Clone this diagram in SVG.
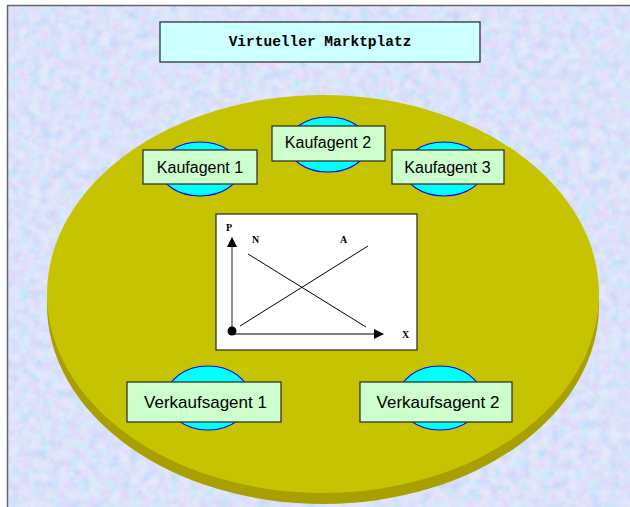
<svg xmlns="http://www.w3.org/2000/svg" width="630" height="507" viewBox="0 0 630 507">
  <defs>
    <filter id="tex" x="0" y="0" width="100%" height="100%">
      <feTurbulence type="fractalNoise" baseFrequency="0.1" numOctaves="3" seed="4" result="n"/>
      <feColorMatrix in="n" type="matrix" values="0.9 0 0 0 0.42  0 0.5 0 0 0.64  0 0 0.3 0 0.85  0 0 0 0 0.6" result="c"/>
      <feComposite in="c" in2="SourceGraphic" operator="in"/>
    </filter>
    <style>
      .agent { fill: #ccffcc; stroke: #333333; stroke-width: 1.3; }
      .blob { fill: #00ffff; stroke: #0000ff; stroke-width: 1.2; }
      .lbl { font-family: "Liberation Sans", Arial, sans-serif; font-size: 16px; fill: #000; text-anchor: middle; }
      .lbl2 { font-family: "Liberation Sans", Arial, sans-serif; font-size: 17px; fill: #000; text-anchor: middle; }
      .ax { font-family: "Liberation Serif", "Times New Roman", serif; font-size: 10px; font-weight: bold; fill: #000; }
    </style>
    <marker id="arr" markerWidth="10" markerHeight="10" refX="9" refY="5" orient="auto" markerUnits="userSpaceOnUse">
      <path d="M0,0 L10,5 L0,10 Z" fill="#000"/>
    </marker>
  </defs>

  <g id="background">
    <rect x="0" y="0" width="630" height="507" fill="#ffffff"/>
    <rect x="7" y="5" width="623" height="502" fill="#bccaf6"/>
    <rect x="7" y="5" width="623" height="502" fill="#ffffff" filter="url(#tex)"/>
    <path d="M7.5,507 L7.5,5.5 L630,5.5" fill="none" stroke="#666666" stroke-width="1.5"/>
  </g>

  <g id="title">
    <rect x="160" y="22" width="320" height="40" fill="#ccffff" stroke="#333333" stroke-width="1.3"/>
    <text x="320" y="46" font-family="'Liberation Mono', 'Courier New', monospace" font-size="14.5" font-weight="bold" text-anchor="middle" fill="#000">Virtueller Marktplatz</text>
  </g>

  <g id="marketplace">
    <ellipse cx="323" cy="305" rx="276" ry="199" fill="#a8a000"/>
    <ellipse cx="323" cy="294" rx="276" ry="199" fill="#c6c300"/>
  </g>

  <g id="kaufagent1">
    <ellipse class="blob" cx="200" cy="169" rx="40" ry="27"/>
    <rect class="agent" x="143" y="150" width="114" height="34"/>
    <text class="lbl" x="200" y="173">Kaufagent 1</text>
  </g>

  <g id="kaufagent2">
    <ellipse class="blob" cx="328" cy="144.5" rx="40" ry="27.5"/>
    <rect class="agent" x="272" y="126" width="113" height="35"/>
    <text class="lbl" x="328" y="148">Kaufagent 2</text>
  </g>

  <g id="kaufagent3">
    <ellipse class="blob" cx="444" cy="169" rx="40" ry="27"/>
    <rect class="agent" x="392" y="150" width="112" height="34"/>
    <text class="lbl" x="447.5" y="173">Kaufagent 3</text>
  </g>

  <g id="chart">
    <rect x="216" y="214" width="201" height="136" fill="#ffffff" stroke="#333333" stroke-width="1.3"/>
    <line x1="232" y1="331" x2="232" y2="238" stroke="#555555" stroke-width="1.3" marker-end="url(#arr)"/>
    <line x1="234" y1="334" x2="383" y2="334" stroke="#555555" stroke-width="1.3" marker-end="url(#arr)"/>
    <circle cx="232" cy="331" r="4.5" fill="#000"/>
    <line x1="248" y1="254" x2="366" y2="327" stroke="#000" stroke-width="1"/>
    <line x1="240" y1="326" x2="368" y2="246" stroke="#000" stroke-width="1"/>
    <text class="ax" x="226" y="231">P</text>
    <text class="ax" x="252" y="243">N</text>
    <text class="ax" x="340" y="243">A</text>
    <text class="ax" x="402" y="338">X</text>
  </g>

  <g id="verkaufsagent1">
    <ellipse class="blob" cx="208" cy="398" rx="42" ry="32"/>
    <rect class="agent" x="127" y="382" width="154" height="40"/>
    <text class="lbl2" x="205.5" y="408">Verkaufsagent 1</text>
  </g>

  <g id="verkaufsagent2">
    <ellipse class="blob" cx="440" cy="398" rx="42" ry="32"/>
    <rect class="agent" x="360" y="382" width="152" height="40"/>
    <text class="lbl2" x="438" y="408">Verkaufsagent 2</text>
  </g>

  <g id="connectors"></g>
</svg>
